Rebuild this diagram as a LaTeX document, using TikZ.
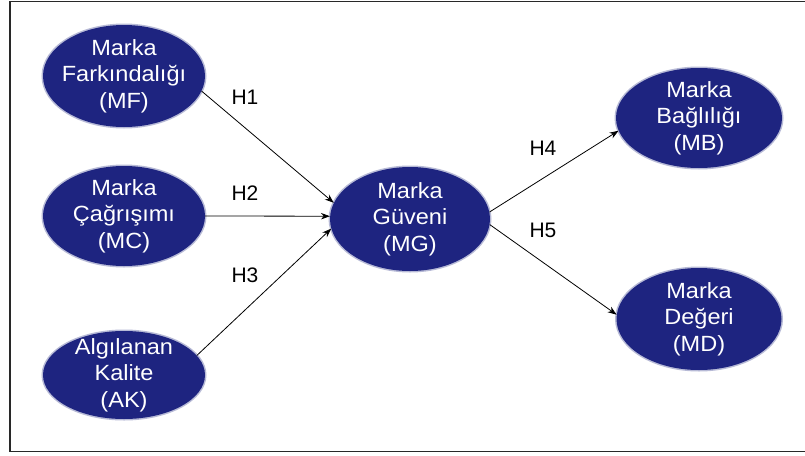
\documentclass[tikz,border=0pt]{standalone}
\usepackage{fontspec}
\setmainfont{Liberation Sans}
\newfontfamily\blobfont[FakeStretch=1.07]{Liberation Sans}
\usetikzlibrary{shapes.geometric,arrows.meta}
\definecolor{navy}{RGB}{30,36,128}
\definecolor{framegray}{RGB}{40,40,40}
\begin{document}
\begin{tikzpicture}[x=1pt,y=-1pt,
  construct/.style={ellipse, fill=navy, inner sep=0pt,
    preaction={draw=navy!70!white, line width=3pt, opacity=0.45},
    label={[text=white, align=center, inner sep=0pt,
            font=\blobfont\fontsize{22}{26.5}\selectfont]center:#1}},
  path/.style={draw=black, line width=0.8pt, -{Stealth[length=9pt,width=6.5pt]}},
  hyp/.style={font=\fontsize{21}{24}\selectfont, text=black}]
  \useasboundingbox (0,0) rectangle (805,455);
  \fill[white] (0,0) rectangle (805,455);
  % outer frame (its right edge lies past the page)
  \draw[framegray, line width=1.2pt] (10,1.5) rectangle (830,451.5);

  % constructs
  \node[construct={Marka\\Farkındalığı\\(MF)}, minimum width=162pt, minimum height=102pt] (mf) at (124,76)  {};
  \node[construct={Marka\\Çağrışımı\\(MC)},    minimum width=162pt, minimum height=100pt] (mc) at (124,216) {};
  \node[construct={Algılanan\\Kalite\\(AK)},   minimum width=162pt, minimum height=88pt]  (ak) at (124,375) {};
  \node[construct={Marka\\Güveni\\(MG)},       minimum width=160pt, minimum height=104pt] (mg) at (410,219) {};
  \node[construct={Marka\\Bağlılığı\\(MB)},    minimum width=166pt, minimum height=100pt] (mb) at (699,118) {};
  \node[construct={Marka\\Değeri\\(MD)},       minimum width=165pt, minimum height=102pt] (md) at (699,319) {};

  % hypothesised paths
  \draw[path] (mf.-11) -- (mg.168);
  \draw[path] (mc.0)   -- (mg.178);
  \draw[path] (ak.15)  -- (mg.187);
  \draw[path] (mg.5)   -- (mb.189);
  \draw[path] (mg.-4)  -- (md.177);

  % hypothesis labels
  \node[hyp] (h1) at (245,97)  {H1};
  \node[hyp] (h2) at (245,193) {H2};
  \node[hyp] (h3) at (245,275) {H3};
  \node[hyp] (h4) at (543,148) {H4};
  \node[hyp] (h5) at (543,230) {H5};
\end{tikzpicture}
\end{document}
